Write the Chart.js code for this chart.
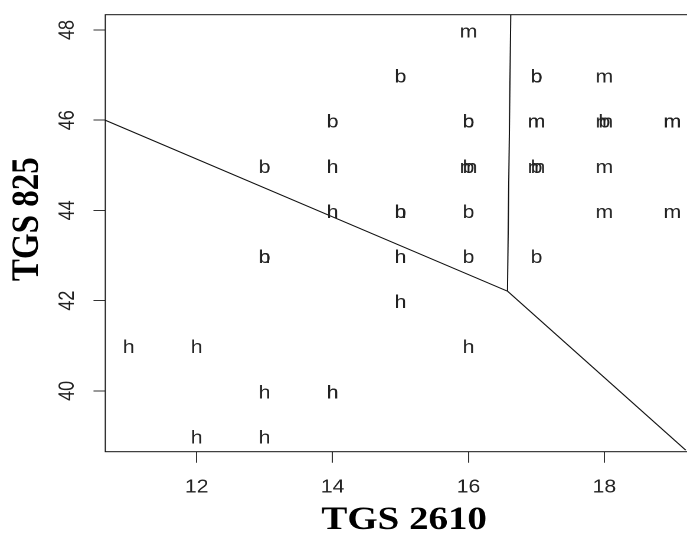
<!DOCTYPE html>
<html>
<head>
<meta charset="utf-8">
<script src="https://cdn.jsdelivr.net/npm/chart.js@4.4.1/dist/chart.umd.min.js"></script>
<style>
  html, body { margin: 0; padding: 0; background: #fff; overflow: hidden; width: 687px; height: 546px; }
  /* the reference image is stretched sideways, so draw narrower and widen with css;
     the plot runs a little past the right edge of the window */
  #wrap { width: 596px; height: 546px; transform: scaleX(1.1804); transform-origin: 0 0; }
</style>
</head>
<body>
<div id="wrap"><canvas id="chart"></canvas></div>
<script>
// class h points
const hX = [11, 12, 16, 12, 13, 13, 14, 14, 15, 15, 14, 14, 13, 15];
const hY = [41, 41, 41, 39, 39, 40, 40, 40, 42, 43, 44, 45, 43, 44];
// class b points
const bX = [15, 17, 17, 14, 16, 16, 18, 13, 16, 17, 15, 16, 13, 16, 17];
const bY = [47, 47, 47, 46, 46, 46, 46, 45, 45, 45, 44, 44, 43, 43, 43];
// class m points
const mX = [16, 18, 17, 17, 18, 19, 19, 16, 17, 18, 18, 19];
const mY = [48, 47, 46, 46, 46, 46, 46, 45, 45, 45, 44, 44];

// decision boundaries
const lineHBx = [10.656, 16.574];
const lineHBy = [46.0, 42.21];
const lineBMx = [16.622, 16.574];
const lineBMy = [48.34, 42.21];
const lineHMx = [16.574, 19.196];
const lineHMy = [42.21, 38.685];

const xTicks = [12, 14, 16, 18];
const yTicks = [40, 42, 44, 46, 48];
const xTitle = 'TGS 2610';
const yTitle = 'TGS 825';

const toPts = (xs, ys) => xs.map((x, i) => ({ x, y: ys[i] }));

const letterSet = (letter, xs, ys) => ({
  letter, data: toPts(xs, ys), pointRadius: 0, showLine: false
});
const lineSet = (xs, ys) => ({
  data: toPts(xs, ys), showLine: true, pointRadius: 0,
  borderColor: '#111', borderWidth: 1
});

// draw each point as its class letter
const letters = {
  id: 'letters',
  afterDatasetsDraw(chart) {
    const ctx = chart.ctx;
    ctx.save();
    ctx.font = '18px "Liberation Sans", Arial, sans-serif';
    ctx.fillStyle = '#222';
    ctx.textAlign = 'center';
    ctx.textBaseline = 'alphabetic';
    chart.data.datasets.forEach((ds, i) => {
      if (!ds.letter) return;
      chart.getDatasetMeta(i).data.forEach(pt => ctx.fillText(ds.letter, pt.x, pt.y + 7.5));
    });
    ctx.restore();
  }
};

// box round the plot + axis titles
const frame = {
  id: 'frame',
  afterDraw(chart) {
    const { ctx, chartArea: a } = chart;
    ctx.save();
    ctx.strokeStyle = '#111';
    ctx.lineWidth = 1;
    ctx.strokeRect(a.left, a.top, a.right - a.left, a.bottom - a.top);

    ctx.fillStyle = '#000';
    ctx.font = 'bold 33px "Liberation Serif", "Times New Roman", serif';
    ctx.textAlign = 'center';
    ctx.textBaseline = 'middle';
    ctx.fillText(xTitle, (a.left + a.right) / 2, a.bottom + 69);

    ctx.translate(23.5, (a.top + a.bottom) / 2 - 14);
    ctx.rotate(-Math.PI / 2);
    ctx.fillText(yTitle, 0, 0);
    ctx.restore();
  }
};

new Chart(document.getElementById('chart'), {
  type: 'scatter',
  data: {
    datasets: [
      lineSet(lineHBx, lineHBy),
      lineSet(lineBMx, lineBMy),
      lineSet(lineHMx, lineHMy),
      letterSet('h', hX, hY),
      letterSet('b', bX, bY),
      letterSet('m', mX, mY)
    ]
  },
  options: {
    responsive: true,
    maintainAspectRatio: false,
    devicePixelRatio: 2,
    animation: false,
    events: [],
    layout: { padding: { top: 14.7, left: 0, right: 0, bottom: 0 } },
    plugins: { legend: { display: false }, tooltip: { enabled: false } },
    scales: {
      x: {
        type: 'linear', min: 10.656, max: 19.45,
        afterBuildTicks: s => { s.ticks = xTicks.map(v => ({ value: v })); },
        afterFit: s => { s.height = 94.3; s.paddingLeft = 0; s.paddingRight = 0; },
        grid: { drawOnChartArea: false, tickLength: 11, color: '#333' },
        border: { display: false },
        ticks: { padding: 14, color: '#222', font: { size: 18, family: '"Liberation Sans", Arial, sans-serif' } }
      },
      y: {
        type: 'linear', min: 38.65, max: 48.34,
        afterBuildTicks: s => { s.ticks = yTicks.map(v => ({ value: v })); },
        afterFit: s => { s.width = 89.2; s.paddingTop = 0; s.paddingBottom = 0; },
        grid: { drawOnChartArea: false, tickLength: 10, color: '#333' },
        border: { display: false },
        ticks: {
          padding: 11.5, minRotation: 90, maxRotation: 90, crossAlign: 'center',
          color: '#222', font: { size: 18, family: '"Liberation Sans", Arial, sans-serif' }
        }
      }
    }
  },
  plugins: [letters, frame]
});
</script>
</body>
</html>
